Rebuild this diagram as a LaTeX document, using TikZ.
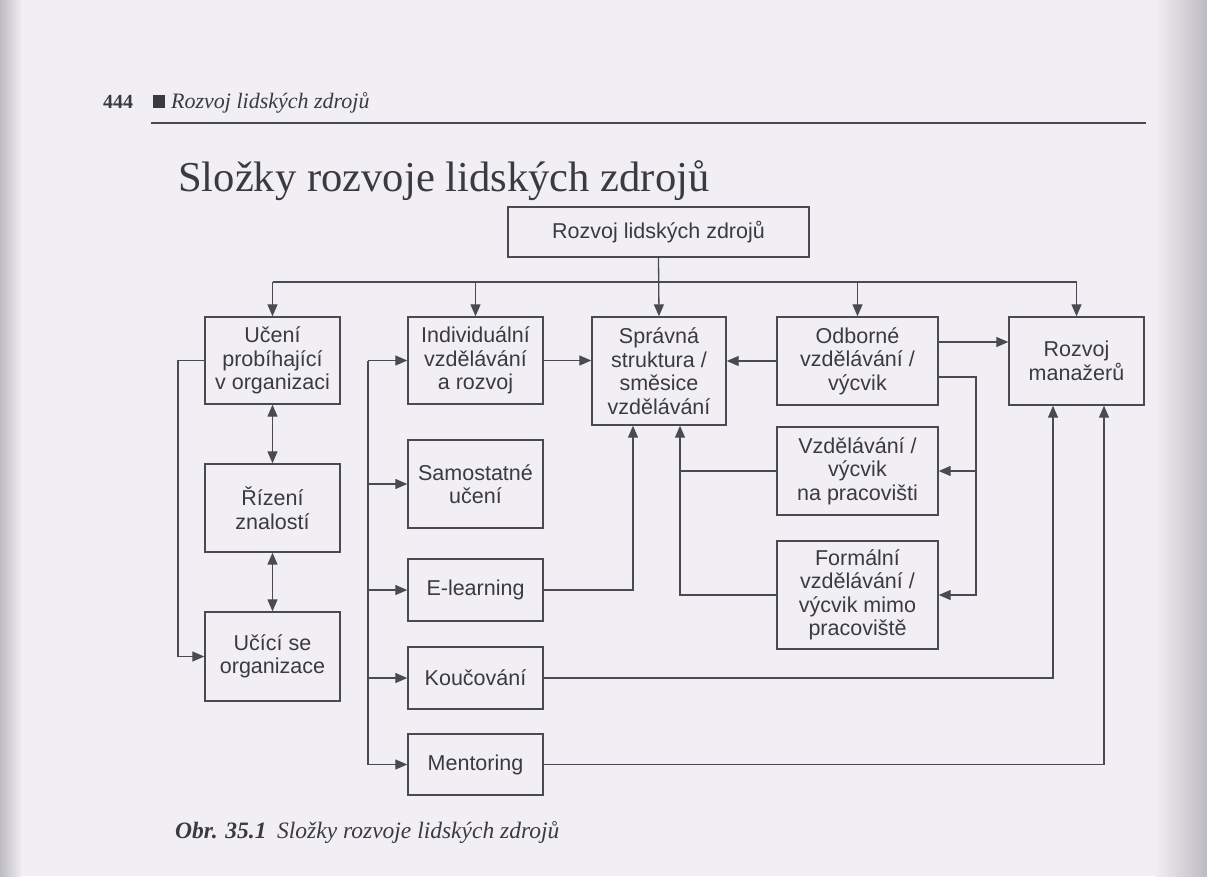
\documentclass[tikz,border=0pt]{standalone}
\usepackage{fontspec}
\setmainfont{Liberation Serif}
\newfontfamily\boxfont{Liberation Sans}
\usetikzlibrary{arrows.meta,calc}
\definecolor{paper}{HTML}{F1EFF3}
\definecolor{ink}{HTML}{4A4A54}
\definecolor{txt}{HTML}{3A3A42}
\definecolor{edge}{HTML}{BDBBC2}
\begin{document}
\begin{tikzpicture}[x=1pt,y=-1pt,
  box/.style={draw=ink, line width=1.4pt, inner sep=0pt, align=center, text=txt,
    font=\boxfont\fontsize{21.5}{23.5}\selectfont},
  conn/.style={draw=ink, line width=1.3pt},
  arr/.style={conn, -{Triangle[length=12pt,width=10pt]}},
  darr/.style={conn, {Triangle[length=12pt,width=10pt]}-{Triangle[length=12pt,width=10pt]}},
  w135/.style={minimum width=135pt},
  w161/.style={minimum width=161pt}]
\useasboundingbox (0,0) rectangle (1207,876);
\fill[paper] (0,0) rectangle (1207,876);
\shade[left color=paper, right color=edge] (1155,0) rectangle (1207,876);
\shade[left color=edge, right color=paper] (0,0) rectangle (22,876);

% header
\node[anchor=base west, inner sep=0pt, text=txt, font=\fontsize{20}{24}\selectfont\bfseries] (pg) at (103,108) {444};
\fill[txt] (153,95) rectangle (165,108);
\node[anchor=base west, inner sep=0pt, text=txt, font=\fontsize{22}{24}\selectfont\itshape] (hdr) at (171,108) {Rozvoj lidských zdrojů};
\draw[ink, line width=1.6pt] (151,123) -- (1146,123);
\node[anchor=base west, inner sep=0pt, text=txt, font=\fontsize{42.6}{48}\selectfont] (title) at (178,191) {Složky rozvoje lidských zdrojů};

% boxes
\node[box, minimum width=301pt, minimum height=50pt] (top) at (658.5,232) {Rozvoj lidských zdrojů};
\node[box, w135, minimum height=87pt] (ucen) at (272.5,360.5) {Učení\\probíhající\\v organizaci};
\node[box, w135, minimum height=87pt] (indiv) at (475.5,360.5) {Individuální\\vzdělávání\\a rozvoj};
\node[box, minimum width=134pt, minimum height=108pt] (sprav) at (659,371) {Správná\\struktura /\\směsice\\vzdělávání};
\node[box, w161, minimum height=88pt] (odb) at (857.5,361) {Odborné\\vzdělávání /\\výcvik};
\node[box, w135, minimum height=88pt] (manag) at (1076.5,361) {Rozvoj\\manažerů};
\node[box, w135, minimum height=88pt] (rizeni) at (272.5,508) {Řízení\\znalostí};
\node[box, w135, minimum height=89pt] (ucici) at (272.5,656.5) {Učící se\\organizace};
\node[box, w135, minimum height=88pt] (samost) at (475.5,484) {Samostatné\\učení};
\node[box, w135, minimum height=62pt] (elearn) at (475.5,590) {E-learning};
\node[box, w135, minimum height=62pt] (kouc) at (475.5,678) {Koučování};
\node[box, w135, minimum height=61pt] (mentor) at (475.5,764.5) {Mentoring};
\node[box, w161, minimum height=88pt] (vzdel) at (857.5,471) {Vzdělávání /\\výcvik\\na pracovišti};
\node[box, w161, minimum height=108pt] (formal) at (857.5,595) {Formální\\vzdělávání /\\výcvik mimo\\pracoviště};

% helper coordinates
\coordinate (bus) at (0,282);
\coordinate (y342) at (0,342);
\coordinate (y377) at (0,377);
\coordinate (xl) at (178,0);
\coordinate (xc) at (368,0);
\coordinate (xe) at (633,0);
\coordinate (xv) at (680,0);
\coordinate (xr) at (976,0);
\coordinate (xk) at (1053,0);
\coordinate (xm) at (1104,0);

% top distribution
\draw[arr] (top.south) -- (sprav.north);
\draw[conn] (ucen.north |- bus) -- (manag.north |- bus);
\draw[arr] (ucen.north |- bus) -- (ucen.north);
\draw[arr] (indiv.north |- bus) -- (indiv.north);
\draw[arr] (odb.north |- bus) -- (odb.north);
\draw[arr] (manag.north |- bus) -- (manag.north);

% row 1 links
\draw[arr] (indiv.east) -- (indiv.east -| sprav.west);
\draw[arr] (odb.west) -- (odb.west -| sprav.east);
\draw[arr] (odb.east |- y342) -- (manag.west |- y342);
\draw[arr] (odb.east |- y377) -| (xr |- formal.east) -- (formal.east);
\draw[arr] (xr |- vzdel.east) -- (vzdel.east);

% into Spravna from below
\draw[arr] (vzdel.west) -| (xv |- sprav.south);
\draw[conn] (formal.west) -| (xv |- vzdel.west);
\draw[arr] (elearn.east) -| (xe |- sprav.south);

% into Rozvoj manazeru from below
\draw[arr] (kouc.east) -| (xk |- manag.south);
\draw[arr] (mentor.east) -| (xm |- manag.south);

% left column
\draw[arr] (ucen.west) -- (xl |- ucen.west) |- (ucici.west);
\draw[darr] (ucen.south) -- (rizeni.north);
\draw[darr] (rizeni.south) -- (ucici.north);

% second column bracket
\draw[conn] (xc |- indiv.west) -- (xc |- mentor.west);
\draw[arr] (xc |- indiv.west) -- (indiv.west);
\draw[arr] (xc |- samost.west) -- (samost.west);
\draw[arr] (xc |- elearn.west) -- (elearn.west);
\draw[arr] (xc |- kouc.west) -- (kouc.west);
\draw[arr] (xc |- mentor.west) -- (mentor.west);

% caption
\node[anchor=base west, inner sep=0pt, text=txt, font=\fontsize{23.5}{26}\selectfont\itshape] (cap) at (175,838) {\textbf{Obr. 35.1}\hspace{0.45em}Složky rozvoje lidských zdrojů};
\end{tikzpicture}
\end{document}
